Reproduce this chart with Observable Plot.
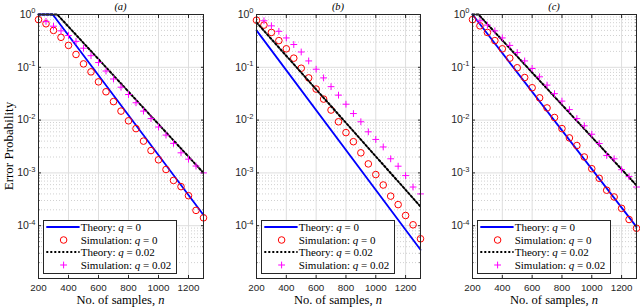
<!DOCTYPE html>
<html><head><meta charset="utf-8">
<script src="https://cdn.jsdelivr.net/npm/d3@7"></script>
<script src="https://cdn.jsdelivr.net/npm/@observablehq/plot@0.6"></script>
<style>
body{margin:0;background:#fff;}
#fig{position:relative;width:640px;height:308px;overflow:hidden;background:#fff;}
.panel{position:absolute;top:0;}
.ctext{position:absolute;transform:translate(-50%,-50%);white-space:nowrap;line-height:1;color:#000;font-family:"Liberation Serif","Times New Roman",serif;}
.title{font-size:10.5px;font-style:italic;}
.xlab{font-size:12.5px;}
.ylab{font-size:13px;transform:translate(-50%,-50%) rotate(-90deg);}
.legend{position:absolute;background:#fff;border:1px solid #262626;box-sizing:border-box;font-family:"Liberation Serif","Times New Roman",serif;font-size:11px;color:#000;}
.row{position:absolute;left:0;height:12px;white-space:nowrap;}
.row svg{position:absolute;left:2px;top:0;}
.row span{position:absolute;left:37px;top:0;line-height:12px;}
</style></head><body><div id="fig"></div>
<script>
// ---- data ----
const nSim = [200,250,300,350,400,450,500,550,600,650,700,750,800,850,900,950,1000,1050,1100,1150,1200,1250,1300];
const nPlus = [250,300,350,400,450,500,550,600,650,700,750,800,850,900,950,1000,1050,1100,1150,1200,1250,1300];

const simA_q0   = [0.80,0.667,0.50,0.37,0.26,0.175,0.116,0.082,0.053,0.0344,0.0224,0.0148,0.0097,0.0069,0.0040,0.00265,0.00177,0.00116,0.00072,0.00055,0.00037,0.000195,0.000141];
const simA_q002 = [0.74,0.60,0.49,0.40,0.31,0.23,0.166,0.123,0.085,0.060,0.042,0.0305,0.0213,0.0148,0.0107,0.0074,0.0052,0.00363,0.00240,0.00182,0.00135,0.00100];
const thA_q0_n = [200,295,1300],   thA_q0_p = [1,1,1.6e-4];
const thA_q002_n = [200,325,1300], thA_q002_p = [1,1,1.0e-3];

const simB_q0   = [0.78,0.63,0.457,0.32,0.224,0.149,0.096,0.063,0.0387,0.025,0.0155,0.0093,0.0058,0.0039,0.0024,0.00148,0.00093,0.00059,0.000363,0.000251,0.000156,0.000104,0.0000565];
const simB_q002 = [0.76,0.61,0.48,0.36,0.27,0.195,0.132,0.092,0.063,0.043,0.0297,0.020,0.0133,0.0093,0.0060,0.0043,0.0031,0.00185,0.00134,0.00089,0.00054,0.00040];
const thB_q0_n = [200,1300],   thB_q0_p = [0.5,3.5e-5];
const thB_q002_n = [200,1300], thB_q002_p = [0.71,2.3e-4];

const simC_q0   = [0.80,0.61,0.457,0.32,0.224,0.149,0.098,0.064,0.041,0.0264,0.017,0.0112,0.0069,0.0046,0.0033,0.0020,0.0012,0.00079,0.00047,0.00035,0.000213,0.000131,0.0000895];
const simC_q002 = [0.76,0.63,0.49,0.36,0.26,0.19,0.132,0.095,0.066,0.046,0.0317,0.0229,0.0158,0.0107,0.0078,0.0054,0.0036,0.00214,0.00185,0.00115,0.00085,0.00054];
const thC_q0_n = [200,1300],       thC_q0_p = [1,9.5e-5];
const thC_q002_n = [200,240,1300], thC_q002_p = [1,1,5.8e-4];

const panelTitles = ["(a)","(b)","(c)"];
const xTicks = [200,400,600,800,1000,1200];
const yTickLabels = [1,1e-1,1e-2,1e-3,1e-4];
const yDecades = [1,1e-1,1e-2,1e-3,1e-4,1e-5];
const legendLabels = ["Theory: <i>q</i> = 0","Simulation: <i>q</i> = 0","Theory: <i>q</i> = 0.02","Simulation: <i>q</i> = 0.02"];
const yLabel = "Error Probability";
const xLabel = "No. of samples, <i>n</i>";

// ---- styling ----
const BLUE = "#0000ff", RED = "#ff0000", MAG = "#ff00ff", AX = "#262626";
const plusSymbol = {draw(ctx, size){ const r = Math.sqrt(size/Math.PI); ctx.moveTo(-r,0); ctx.lineTo(r,0); ctx.moveTo(0,-r); ctx.lineTo(0,r); }};
const supMap = {"-":"\u207B","0":"\u2070","1":"\u00B9","2":"\u00B2","3":"\u00B3","4":"\u2074","5":"\u2075"};
const unsup = Object.fromEntries(Object.entries(supMap).map(([k,v]) => [v,k]));
const fmtY = v => "10" + String(Math.round(Math.log10(v))).split("").map(c => supMap[c]).join("");
const minorY = d3.scaleLog().domain([1e-5,1]).ticks().filter(v => Math.abs(Math.log10(v) - Math.round(Math.log10(v))) > 1e-6);

const H = 308, MT = 14, MB = 30;
const panels = [
  {left:0,   width:210, ml:38, mr:7, s0:simA_q0, s2:simA_q002, t0:[thA_q0_n,thA_q0_p], t2:[thA_q002_n,thA_q002_p]},
  {left:210, width:214, ml:46, mr:4, s0:simB_q0, s2:simB_q002, t0:[thB_q0_n,thB_q0_p], t2:[thB_q002_n,thB_q002_p]},
  {left:426, width:214, ml:46, mr:4, s0:simC_q0, s2:simC_q002, t0:[thC_q0_n,thC_q0_p], t2:[thC_q002_n,thC_q002_p]}
];

const fig = document.getElementById("fig");
const zip = (a,b) => a.map((v,i) => ({n:v, p:b[i]}));

panels.forEach((P, i) => {
  const svg = Plot.plot({
    width: P.width, height: H,
    marginLeft: P.ml, marginRight: P.mr, marginTop: MT, marginBottom: MB,
    style: {fontFamily: "'Liberation Sans', Arial, sans-serif", fontSize: "9.5px", background: "transparent", overflow: "visible"},
    x: {domain: [200,1300]},
    y: {type: "log", domain: [1e-5,1]},
    marks: [
      Plot.ruleY(minorY, {stroke: "#bdbdbd", strokeDasharray: "1,2", strokeWidth: 0.7}),
      Plot.ruleY(yDecades, {stroke: "#dedede"}),
      Plot.ruleX(xTicks, {stroke: "#dedede"}),
      Plot.line(zip(P.t0[0], P.t0[1]), {x: "n", y: "p", stroke: BLUE, strokeWidth: 1.8}),
      Plot.dot(zip(nSim, P.s0), {x: "n", y: "p", r: 3.3, stroke: RED, fill: "none", strokeWidth: 1}),
      Plot.line(zip(P.t2[0], P.t2[1]), {x: "n", y: "p", stroke: "#000", strokeWidth: 2, strokeDasharray: "2,2"}),
      Plot.dot(zip(nPlus, P.s2), {x: "n", y: "p", r: 3.4, symbol: plusSymbol, stroke: MAG, fill: "none", strokeWidth: 1}),
      Plot.frame({stroke: AX, strokeWidth: 1}),
      Plot.axisX(xTicks, {anchor: "bottom", tickSize: 0, tickPadding: 6, tickFormat: d => String(d), fill: AX, fontSize: 9.8, label: null}),
      Plot.axisY(yTickLabels, {anchor: "left", tickSize: 0, tickPadding: 3, tickFormat: fmtY, fill: AX, fontSize: 10.5, label: null}),
      Plot.axisX(xTicks, {anchor: "bottom", tickSize: -3, fill: "none", stroke: AX, label: null}),
      Plot.axisX(xTicks, {anchor: "top", tickSize: -3, fill: "none", stroke: AX, label: null}),
      Plot.axisY(yDecades, {anchor: "left", tickSize: -3, fill: "none", stroke: AX, label: null}),
      Plot.axisY(yDecades, {anchor: "right", tickSize: -3, fill: "none", stroke: AX, label: null}),
      Plot.axisY(minorY, {anchor: "left", tickSize: -1.5, fill: "none", stroke: AX, label: null}),
      Plot.axisY(minorY, {anchor: "right", tickSize: -1.5, fill: "none", stroke: AX, label: null})
    ]
  });
  // render exponents of the y tick labels as real superscripts
  svg.querySelectorAll('g[aria-label="y-axis tick label"] text').forEach(t => {
    const s = t.textContent;
    if (!s.startsWith("10")) return;
    const exp = s.slice(2).split("").map(c => unsup[c] ?? c).join("");
    t.textContent = "10";
    const ts = document.createElementNS("http://www.w3.org/2000/svg", "tspan");
    ts.setAttribute("dy", "-4.5");
    ts.setAttribute("font-size", "7.5px");
    ts.textContent = exp;
    t.appendChild(ts);
  });
  svg.classList.add("panel");
  svg.style.left = P.left + "px";
  fig.appendChild(svg);

  const plotL = P.left + P.ml, plotR = P.left + P.width - P.mr, cx = (plotL + plotR) / 2;

  const t = document.createElement("div");
  t.className = "ctext title"; t.textContent = panelTitles[i];
  t.style.left = cx + "px"; t.style.top = "6.5px";
  fig.appendChild(t);

  const xl = document.createElement("div");
  xl.className = "ctext xlab"; xl.innerHTML = xLabel;
  xl.style.left = cx + "px"; xl.style.top = "299.5px";
  fig.appendChild(xl);

  // legend
  const lg = document.createElement("div");
  lg.className = "legend";
  lg.style.left = (plotL + 4.7) + "px"; lg.style.top = "220px";
  lg.style.width = "134px"; lg.style.height = "53.5px";
  const centers = [7.2, 19.7, 32.2, 44.7];
  const samples = [
    `<line x1="0.3" x2="33.6" y1="6" y2="6" stroke="${BLUE}" stroke-width="1.8"/>`,
    `<circle cx="17.6" cy="6" r="3.3" fill="none" stroke="${RED}" stroke-width="1"/>`,
    `<line x1="0.3" x2="33.6" y1="6" y2="6" stroke="#000" stroke-width="2" stroke-dasharray="2,2"/>`,
    `<path d="M14.2,6H21M17.6,2.6V9.4" fill="none" stroke="${MAG}" stroke-width="1"/>`
  ];
  legendLabels.forEach((lab, k) => {
    const row = document.createElement("div");
    row.className = "row";
    row.style.top = (centers[k] - 6 - 1) + "px";
    row.style.width = "132px";
    row.innerHTML = `<svg width="34" height="12">${samples[k]}</svg><span>${lab}</span>`;
    lg.appendChild(row);
  });
  fig.appendChild(lg);
});

const yl = document.createElement("div");
yl.className = "ctext ylab"; yl.textContent = yLabel;
yl.style.left = "8px"; yl.style.top = "146px";
fig.appendChild(yl);
</script>
</body></html>
